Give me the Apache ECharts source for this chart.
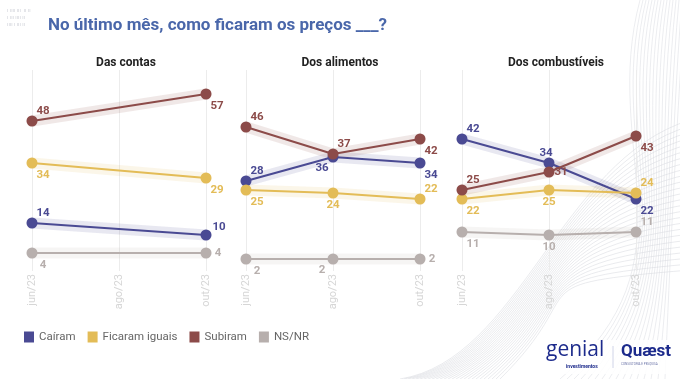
<!DOCTYPE html>
<html><head><meta charset="utf-8">
<script src="https://cdn.jsdelivr.net/npm/echarts@6/dist/echarts.min.js"></script>
<style>html,body{margin:0;padding:0;background:#fff}#c{width:680px;height:379px}</style>
</head><body><div id="c"></div>
<script>
// ---- data ----
const months = ['jun/23', 'ago/23', 'out/23'];
const panelTitles = ['Das contas', 'Dos alimentos', 'Dos combustíveis'];
const seriesNames = ['Caíram', 'Ficaram iguais', 'Subiram', 'NS/NR'];
// values per panel [jun, ago, out]
const contasCairam   = [14, null, 10];
const contasIguais   = [34, null, 29];
const contasSubiram  = [48, null, 57];
const contasNsnr     = [4, null, 4];
const alimCairam     = [28, 36, 34];
const alimIguais     = [25, 24, 22];
const alimSubiram    = [46, 37, 42];
const alimNsnr       = [2, 2, 2];
const combCairam     = [42, 34, 22];
const combIguais     = [22, 25, 24];
const combSubiram    = [25, 31, 43];
const combNsnr       = [11, 10, 11];

// ---- styling ----
const colors = ['#4a4a93', '#e3bc57', '#8c4b49', '#b7afad'];
const panelData = [
  [contasCairam, contasIguais, contasSubiram, contasNsnr],
  [alimCairam, alimIguais, alimSubiram, alimNsnr],
  [combCairam, combIguais, combSubiram, combNsnr]
];
// label placements per panel / series / point
const labelPlace = [
  [['ur', null, 'rr'], ['dr', null, 'dr'], ['ur', null, 'dr'], ['dr', null, 'r']],
  [['ur', 'dl', 'dr'], ['dr', 'd', 'ur'], ['ur', 'ur', 'dr'], ['dr', 'dl', 'r']],
  [['ur', 'u', 'dr'], ['dr', 'd', 'ur'], ['ur', 'r', 'dr'], ['dr', 'd', 'ur']]
];
const offs = { ur: [11, -10], dr: [11, 12], r: [12, 0], rr: [13, -8], d: [0, 12], u: [-3, -10], dl: [-11, 11] };
const gridLefts = [32, 246, 462];
const gridW = 174;

const grids = [], xAxes = [], yAxes = [], series = [], titles = [];
gridLefts.forEach((l, p) => {
  grids.push({ left: l, width: gridW, top: 70, bottom: 108, containLabel: false });
  xAxes.push({
    type: 'category', gridIndex: p, data: months, boundaryGap: false,
    axisLine: { show: false }, axisTick: { show: false },
    splitLine: { show: true, lineStyle: { color: '#ececec', width: 1 } },
    axisLabel: { rotate: 90, color: '#d6d6d6', fontSize: 11, margin: 3, fontFamily: 'Roboto' }
  });
  yAxes.push({ type: 'value', gridIndex: p, min: -2, max: 65, show: false, splitLine: { show: false } });
  titles.push({
    text: panelTitles[p], left: l + gridW / 2 + 2, top: 52, textAlign: 'center',
    textStyle: { fontSize: 12, fontWeight: 'bold', color: '#222', fontFamily: 'Roboto' }
  });
  panelData[p].forEach((vals, s) => {
    // soft band behind line
    series.push({
      type: 'line', name: seriesNames[s] + ' band', xAxisIndex: p, yAxisIndex: p,
      data: vals, connectNulls: true, showSymbol: false, silent: true, z: 1,
      lineStyle: { color: colors[s], width: 11, opacity: 0.13, cap: 'round' }
    });
    series.push({
      type: 'line', name: seriesNames[s], xAxisIndex: p, yAxisIndex: p,
      connectNulls: true, symbol: 'circle', symbolSize: 11, z: 3,
      itemStyle: { color: colors[s] },
      lineStyle: { color: colors[s], width: 2 },
      data: vals.map((v, i) => v == null ? null : {
        value: v,
        label: {
          show: true, position: 'inside', offset: offs[labelPlace[p][s][i]],
          color: colors[s], fontSize: 11.5, fontWeight: 'bold', fontFamily: 'Roboto'
        }
      })
    });
  });
});

// decorative curves (bottom right background)
const deco = [];
for (let k = 0; k < 26; k++) {
  deco.push({
    type: 'bezierCurve', silent: true, z: -10,
    shape: { x1: 400 + k * 4, y1: 379, x2: 690, y2: 120 + k * 6, cpx1: 520 + k * 3, cpy1: 360 - k * 3, cpx2: 560 - k * 2, cpy2: 160 + k * 5 },
    style: { stroke: '#d4d7dc', lineWidth: 0.5, fill: null }
  });
}
for (let k = 0; k < 16; k++) {
  deco.push({
    type: 'bezierCurve', silent: true, z: -10,
    shape: { x1: 640 + k * 3, y1: 0, x2: 560 + k * 7, y2: 379, cpx1: 600 + k * 5, cpy1: 150, cpx2: 700 - k * 2, cpy2: 260 },
    style: { stroke: '#d8dbe0', lineWidth: 0.5, fill: null }
  });
}

const option = {
  backgroundColor: '#ffffff',
  animation: false,
  title: [{
    text: 'No último mês, como ficaram os preços ___?', left: 43, top: 12,
    textStyle: { fontSize: 17, fontWeight: 'bold', color: '#4a67aa', fontFamily: 'Roboto' }
  }].concat(titles),
  legend: {
    data: seriesNames, left: 19, top: 326, icon: 'rect', itemWidth: 10, itemHeight: 11, itemGap: 12,
    textStyle: { fontSize: 11.5, color: '#666', fontFamily: 'Roboto', fontWeight: 'normal' }
  },
  grid: grids, xAxis: xAxes, yAxis: yAxes, series: series,
  graphic: deco.concat([
    { type: 'text', left: 7, top: 7, silent: true, style: { text: 'ı ıııı ııı  ıı ıı\nı ııı ıııı ıı\nıııı ı ııı ıı', fill: '#c9ccd4', font: '5px sans-serif', lineHeight: 7 } },
    { type: 'rect', shape: { x: 535, y: 340, width: 140, height: 34 }, style: { fill: 'rgba(255,255,255,0.85)' }, z: -5, silent: true },
    { type: 'text', left: 546, top: 340, style: { text: 'genial', fill: '#1d2b8c', font: '500 21px "Open Sans"' }, z: 10 },
    { type: 'text', left: 566, top: 364, style: { text: 'investimentos', fill: '#1d2b8c', font: 'bold 5px Roboto' }, z: 10 },
    { type: 'line', shape: { x1: 613, y1: 346, x2: 613, y2: 368 }, style: { stroke: '#d0d4e8', lineWidth: 1 }, z: 10 },
    { type: 'text', left: 621, top: 343, style: { text: 'Quæst', fill: '#1d2b8c', font: 'bold 17px Roboto' }, z: 10 },
    { type: 'text', left: 621, top: 363, style: { text: 'CONSULTORIA E PESQUISA', fill: '#6b74a8', font: '3px Roboto' }, z: 10 }
  ])
};
const chart = echarts.init(document.getElementById('c'), null, { renderer: 'canvas' });
chart.setOption(option);
</script></body></html>
